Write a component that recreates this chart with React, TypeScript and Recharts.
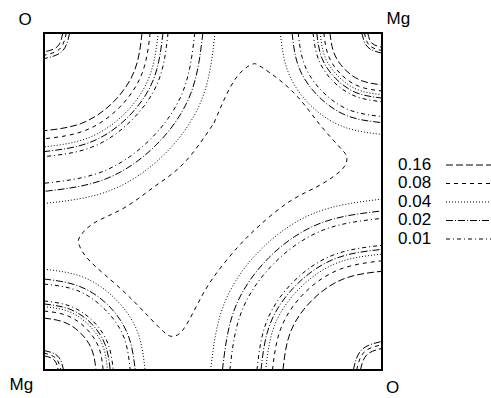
import { LineChart, Line, XAxis, YAxis, ReferenceArea } from 'recharts';

// contour levels shown in the key
const levels = ['0.16', '0.08', '0.04', '0.02', '0.01'];

// dash patterns per level (as in the key)
const dashes: Record<string, string> = {
  '0.16': '7 3',
  '0.08': '4 4',
  '0.04': '1 2',
  '0.02': '7 2 1 2',
  '0.01': '4 3 1 3',
};

// corner atom labels
const cornerLabels = [
  { text: 'O', x: 18.5, y: 25 },
  { text: 'Mg', x: 386.5, y: 24 },
  { text: 'Mg', x: 9.5, y: 390 },
  { text: 'O', x: 386, y: 393 },
];

type Contour = { level: string; pts: [number, number][] };

// plane spans 0..100 on both axes
const oTopLeft: Contour[] = [
  { level: '0.16', pts: [[5.6, 100], [4, 96], [0, 94.4]] },
  { level: '0.08', pts: [[6.6, 100], [4.7, 95.3], [0, 93.4]] },
  { level: '0.02', pts: [[7.6, 100], [5.4, 94.6], [0, 92.4]] },
  { level: '0.16', pts: [[29, 100], [26.8, 88.9], [20.5, 79.5], [11.1, 73.2], [0, 71]] },
  { level: '0.08', pts: [[31.4, 100], [29, 88], [22.2, 77.8], [12, 71], [0, 68.6]] },
  { level: '0.04', pts: [[33.8, 100], [31.2, 87.1], [23.9, 76.1], [12.9, 68.8], [0, 66.2]] },
  { level: '0.02', pts: [[35.2, 100], [32.5, 86.5], [24.9, 75.1], [13.5, 67.5], [0, 64.8]] },
  { level: '0.01', pts: [[36.7, 100], [33.9, 85.9], [25.9, 74.1], [14.1, 66.1], [0, 63.3]] },
  { level: '0.01', pts: [[44.6, 100], [41.2, 82.9], [31.5, 68.5], [17.1, 58.8], [0, 55.4]] },
  { level: '0.02', pts: [[47, 100], [43.4, 82], [33.2, 66.8], [18, 56.6], [0, 53]] },
  { level: '0.04', pts: [[50.6, 100], [46.8, 80.6], [35.8, 64.2], [19.4, 53.2], [0, 49.4]] },
];

const oBottomRight: Contour[] = [
  { level: '0.16', pts: [[93.6, 0], [95.5, 4.5], [100, 6.4]] },
  { level: '0.08', pts: [[92.5, 0], [94.7, 5.3], [100, 7.5]] },
  { level: '0.02', pts: [[91.5, 0], [94, 6], [100, 8.5]] },
  { level: '0.16', pts: [[70.7, 0], [72.9, 11.2], [79.3, 20.7], [88.8, 27.1], [100, 29.3]] },
  { level: '0.08', pts: [[67.6, 0], [70.1, 12.4], [77.1, 22.9], [87.6, 29.9], [100, 32.4]] },
  { level: '0.04', pts: [[65.6, 0], [68.2, 13.2], [75.7, 24.3], [86.8, 31.8], [100, 34.4]] },
  { level: '0.02', pts: [[64.2, 0], [66.9, 13.7], [74.7, 25.3], [86.3, 33.1], [100, 35.8]] },
  { level: '0.01', pts: [[63, 0], [65.8, 14.2], [73.8, 26.2], [85.8, 34.2], [100, 37]] },
  { level: '0.01', pts: [[55, 0], [58.4, 17.2], [68.2, 31.8], [82.8, 41.6], [100, 45]] },
  { level: '0.02', pts: [[52.8, 0], [56.4, 18.1], [66.6, 33.4], [81.9, 43.6], [100, 47.2]] },
  { level: '0.04', pts: [[49.3, 0], [53.2, 19.4], [64.2, 35.8], [80.6, 46.8], [100, 50.7]] },
];

const mgTopRight: Contour[] = [
  { level: '0.16', pts: [[95.8, 100], [97, 97], [100, 95.8]] },
  { level: '0.08', pts: [[94.8, 100], [96.3, 96.3], [100, 94.8]] },
  { level: '0.02', pts: [[94, 100], [95.8, 95.8], [100, 94]] },
  { level: '0.16', pts: [[84.6, 100], [85.8, 94.1], [89.1, 89.1], [94.1, 85.8], [100, 84.6]] },
  { level: '0.08', pts: [[82.8, 100], [84.1, 93.4], [87.8, 87.8], [93.4, 84.1], [100, 82.8]] },
  { level: '0.04', pts: [[81.7, 100], [83.1, 93], [87.1, 87.1], [93, 83.1], [100, 81.7]] },
  { level: '0.02', pts: [[80.7, 100], [82.2, 92.6], [86.4, 86.4], [92.6, 82.2], [100, 80.7]] },
  { level: '0.01', pts: [[79.6, 100], [81.2, 92.2], [85.6, 85.6], [92.2, 81.2], [100, 79.6]] },
  { level: '0.01', pts: [[75.2, 100], [77.1, 90.5], [82.5, 82.5], [90.5, 77.1], [100, 75.2]] },
  { level: '0.02', pts: [[73.4, 100], [75.4, 89.8], [81.2, 81.2], [89.8, 75.4], [100, 73.4]] },
  { level: '0.04', pts: [[69.9, 100], [72.2, 88.5], [78.7, 78.7], [88.5, 72.2], [100, 69.9]] },
];

const mgBottomLeft: Contour[] = [
  { level: '0.16', pts: [[0, 4.2], [3, 3], [4.2, 0]] },
  { level: '0.08', pts: [[0, 5], [3.5, 3.5], [5, 0]] },
  { level: '0.02', pts: [[0, 5.8], [4.1, 4.1], [5.8, 0]] },
  { level: '0.16', pts: [[0, 15.4], [5.9, 14.2], [10.9, 10.9], [14.2, 5.9], [15.4, 0]] },
  { level: '0.08', pts: [[0, 17.5], [6.7, 16.2], [12.4, 12.4], [16.2, 6.7], [17.5, 0]] },
  { level: '0.04', pts: [[0, 18.8], [7.2, 17.4], [13.3, 13.3], [17.4, 7.2], [18.8, 0]] },
  { level: '0.02', pts: [[0, 19.6], [7.5, 18.1], [13.9, 13.9], [18.1, 7.5], [19.6, 0]] },
  { level: '0.01', pts: [[0, 20.5], [7.9, 18.9], [14.5, 14.5], [18.9, 7.9], [20.5, 0]] },
  { level: '0.01', pts: [[0, 25.5], [9.8, 23.6], [18, 18], [23.6, 9.8], [25.5, 0]] },
  { level: '0.02', pts: [[0, 27], [10.3, 24.9], [19.1, 19.1], [24.9, 10.3], [27, 0]] },
  { level: '0.04', pts: [[0, 29.9], [11.5, 27.6], [21.1, 21.1], [27.6, 11.5], [29.9, 0]] },
];

// closed 0.08 contour in the middle of the plane
const centreLoop: Contour[] = [
  {
    level: '0.08',
    pts: [
      [50.3, 73.3], [55, 83.7], [58.9, 89], [61.8, 90.8], [64.8, 89.6], [73.7, 82.5],
      [81.7, 72.7], [88.5, 65], [89.6, 62.9], [88.5, 59.9], [81.7, 54.9], [72.8, 50.1],
      [63.9, 43], [57.1, 36.2], [50, 27.3], [45.3, 19.3], [41.1, 11.9], [38.2, 10],
      [35.8, 11], [30.5, 16.3], [22.5, 24.3], [13.6, 32.3], [10.4, 37.1], [10.6, 39.5],
      [14.8, 43.6], [23.7, 48.1], [32.5, 54.3], [41.4, 61.4], [50.3, 73.3],
    ],
  },
];

const contours = [...oTopLeft, ...oBottomRight, ...mgTopRight, ...mgBottomLeft, ...centreLoop];

const font = '"Liberation Sans", Arial, sans-serif';

export default function App() {
  return (
    <div style={{ position: 'absolute', left: 0, top: 0, width: 491, height: 398, background: '#fff' }}>
      <LineChart width={491} height={398} margin={{ top: 33, right: 109, bottom: 28, left: 44 }}>
        <XAxis type="number" dataKey="x" domain={[0, 100]} hide allowDataOverflow />
        <YAxis type="number" domain={[0, 100]} hide allowDataOverflow />
        {contours.map((c, i) => (
          <Line
            key={i}
            data={c.pts.map(([x, y]) => ({ x, y }))}
            dataKey="y"
            type="natural"
            stroke="#000"
            strokeWidth={1}
            strokeDasharray={dashes[c.level]}
            dot={false}
            activeDot={false}
            isAnimationActive={false}
          />
        ))}
        <ReferenceArea x1={0} x2={100} y1={0} y2={100} fill="none" stroke="#000" strokeWidth={2} ifOverflow="visible" />
      </LineChart>
      <svg width={491} height={398} style={{ position: 'absolute', left: 0, top: 0, pointerEvents: 'none' }}>
        {cornerLabels.map((l, i) => (
          <text key={i} x={l.x} y={l.y} fontFamily={font} fontSize={17} fill="#000">
            {l.text}
          </text>
        ))}
        {levels.map((lv, i) => (
          <g key={lv}>
            <text x={398} y={170 + i * 18.4} fontFamily={font} fontSize={17} fill="#000">
              {lv}
            </text>
            <line
              x1={446}
              x2={491}
              y1={165 + i * 18.5}
              y2={165 + i * 18.5}
              stroke="#000"
              strokeWidth={1}
              strokeDasharray={dashes[lv]}
            />
          </g>
        ))}
      </svg>
    </div>
  );
}
